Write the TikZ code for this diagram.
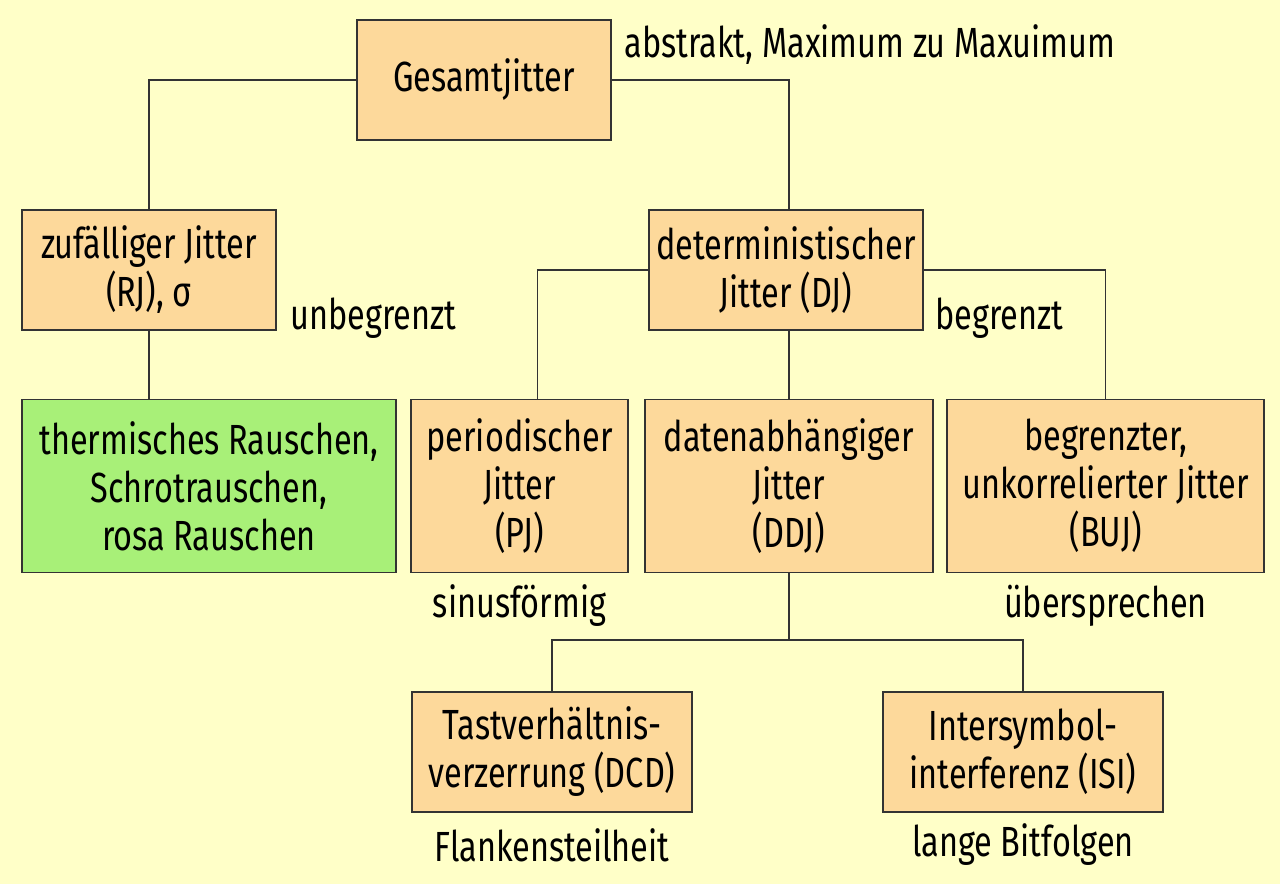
\documentclass[tikz,border=0pt]{standalone}
\usepackage{fontspec}
\setmainfont[FakeStretch=0.77]{Fira Sans}
\usepackage{xcolor}
\definecolor{PaleYellow}{HTML}{FFFFC8}
\definecolor{BoxOrange}{HTML}{FDD99B}
\definecolor{NoiseGreen}{HTML}{A8F078}
\definecolor{LineGray}{HTML}{333333}

\tikzset{
  box/.style={draw=LineGray, fill=BoxOrange, line width=0.9pt, align=center, inner sep=2pt,
    font=\fontsize{24}{27.3}\selectfont},
  tag/.style={inner sep=0pt, font=\fontsize{24}{27.3}\selectfont},
  link/.style={draw=LineGray, line width=0.9pt}
}

\begin{document}
\begin{tikzpicture}[x=0.02cm, y=-0.02cm]
        \fill[PaleYellow] (0,0) rectangle (1280,884);
        \node[box, minimum width=5.08cm, minimum height=2.4cm] (total) at (484,80) {Gesamtjitter};
        \node[box, minimum width=5.08cm, minimum height=2.4cm] (rj) at (149,270) {zufälliger Jitter\\(RJ), σ};
        \node[box, minimum width=5.48cm, minimum height=2.4cm] (dj) at (786,270) {deterministischer\\Jitter (DJ)};
        \node[box, fill=NoiseGreen, minimum width=7.48cm, minimum height=3.46cm] (noise) at (209,486) {thermisches Rauschen,\\Schrotrauschen,\\rosa Rauschen};
        \node[box, minimum width=4.34cm, minimum height=3.46cm] (pj) at (519.5,486) {periodischer\\Jitter\\(PJ)};
        \node[box, minimum width=5.76cm, minimum height=3.46cm] (ddj) at (789,486) {datenabhängiger\\Jitter\\(DDJ)};
        \node[box, minimum width=6.34cm, minimum height=3.46cm] (buj) at (1105.5,486) {begrenzter,\\unkorrelierter Jitter\\(BUJ)};
        \node[box, minimum width=5.6cm, minimum height=2.4cm] (dcd) at (552,752) {Tastverhältnis-\\verzerrung (DCD)};
        \node[box, minimum width=5.6cm, minimum height=2.4cm] (isi) at (1023,752) {Intersymbol-\\interferenz (ISI)};

        % Beschriftungen
        \node[tag, anchor=west] (abstr) at (624,45) {abstrakt, Maximum zu Maxuimum};
        \node[tag, anchor=west] (unbeg) at (290,318) {unbegrenzt};
        \node[tag, anchor=west] (beg) at (935,318) {begrenzt};
        \node[tag] (sinus) at (519.5,606) {sinusförmig};
        \node[tag] (ueber) at (1105.5,606) {übersprechen};
        \node[tag] (flank) at (552,845) {Flankensteilheit};
        \node[tag] (bits) at (1023,845) {lange Bitfolgen};

        \draw[link] (total.west) -| (rj.north);
        \draw[link] (total.east) -| ([xshift=0.06cm]dj.north);
        \draw[link] (rj.south) -- (rj.south |- noise.north);
        \draw[link] (dj.west) -| ([xshift=0.36cm]pj.north);
        \draw[link] (dj.east) -| (buj.north);
        \draw[link] (ddj.north |- dj.south) -- (ddj.north);
        \draw[link] (ddj.south) -- ++(0,67) coordinate (split);
        \draw[link] (split) -| (dcd.north);
        \draw[link] (split) -| (isi.north);
      \end{tikzpicture}
\end{document}
